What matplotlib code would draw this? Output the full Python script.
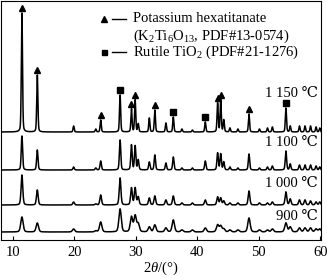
import numpy as np
import matplotlib
matplotlib.use("Agg")
import matplotlib.pyplot as plt

plt.rcParams['font.family'] = ['Liberation Serif', 'DejaVu Serif', 'Noto Sans CJK SC']
plt.rcParams['mathtext.fontset'] = 'custom'
plt.rcParams['mathtext.rm'] = 'Liberation Serif'
plt.rcParams['mathtext.it'] = 'Liberation Serif:italic'

# peak positions (2theta, deg)
peak_pos = [11.5, 14.0, 19.9, 23.5, 24.3, 27.45, 29.3, 29.9, 30.4, 32.2, 33.1,
            34.9, 36.1, 37.5, 39.2, 41.3, 43.3, 43.8, 44.3, 45.3, 46.6, 48.4,
            50.1, 51.4, 52.2, 54.4, 55.1, 56.6, 57.5, 58.4, 59.3, 59.9]

# peak heights for each temperature (arbitrary units)
h_1150 = [119, 57, 6, 3, 12, 37, 23, 32, 8, 14, 22, 9, 15, 3, 2, 10, 29, 32,
          12, 4, 3, 18, 3, 4, 5, 24, 6, 6, 6, 6, 5, 4]
h_1100 = [34, 20, 3, 2, 9, 30, 25, 24, 10, 8, 15, 7, 13, 2, 2, 9, 17, 16, 8,
          3, 2, 16, 2, 3, 4, 19, 6, 5, 5, 5, 4, 3]
h_1000 = [30, 15, 3, 1, 10, 27, 17, 17, 8, 7, 9, 5, 9, 2, 2, 5, 8, 7, 4, 2, 2,
          14, 2, 2, 3, 13, 6, 5, 5, 4, 3, 3]
h_900 = [15, 9, 3, 1, 10, 23, 15, 16, 8, 5, 7, 4, 12, 2, 2, 4, 7, 6, 3, 2, 2,
         14, 2, 2, 3, 9, 5, 4, 4, 4, 3, 3]

temps = ['900 ℃', '1 000 ℃', '1 100 ℃', '1 150 ℃']
offsets = [8, 35, 70, 108]
widths = [0.45, 0.32, 0.26, 0.22]
heights = [h_900, h_1000, h_1100, h_1150]

# phase markers on the 1 150 pattern
tri_pos = [11.5, 14.0, 24.3, 29.3, 29.9, 33.1, 43.3, 43.8, 48.4]
sq_pos = [27.45, 36.1, 41.3, 54.4]


def pattern(x, pos, hts, w):
    y = np.zeros_like(x)
    for p, h in zip(pos, hts):
        g = np.exp(-4 * np.log(2) * (x - p) ** 2 / w ** 2)
        l = 1 / (1 + 4 * (x - p) ** 2 / w ** 2)
        y += h * (0.7 * g + 0.3 * l)
    return y


fig = plt.figure(figsize=(3.27, 2.78), dpi=100)
ax = fig.add_axes([1 / 327, 38 / 278, 320 / 327, 239 / 278])

x = np.linspace(8, 60.5, 3000)
for hts, off, w in zip(heights, offsets, widths):
    ax.plot(x, pattern(x, peak_pos, hts, w) + off, color='black', lw=1.1)

top = dict(zip(peak_pos, h_1150))
ax.plot(tri_pos, [top[p] + offsets[3] + 5 for p in tri_pos], '^', color='black', ms=4.5)
ax.plot(sq_pos, [top[p] + offsets[3] + 5 for p in sq_pos], 's', color='black', ms=4)

label_y = [0.100, 0.238, 0.406, 0.611]
for t, ly in zip(temps, label_y):
    ax.text(0.99, ly, t, transform=ax.transAxes, ha='right', va='center', fontsize=10.5)

# legend drawn by hand
ax.plot([0.322], [0.925], '^', color='black', ms=4, transform=ax.transAxes)
ax.plot([0.347, 0.391], [0.925, 0.925], color='black', lw=1.0, transform=ax.transAxes)
ax.text(0.4125, 0.925, 'Potassium hexatitanate', transform=ax.transAxes, va='center', fontsize=10.5)
ax.text(0.4125, 0.854, '(K$_2$Ti$_6$O$_{13}$, PDF#13-0574)', transform=ax.transAxes,
        va='center', fontsize=10.5)
ax.plot([0.322], [0.787], 's', color='black', ms=3.6, transform=ax.transAxes)
ax.plot([0.347, 0.391], [0.787, 0.787], color='black', lw=1.0, transform=ax.transAxes)
ax.text(0.4125, 0.787, 'Rutile TiO$_2$ (PDF#21-1276)', transform=ax.transAxes,
        va='center', fontsize=10.5)

ax.set_xlim(8.1, 60.1)
ax.set_ylim(0, 239)
ax.set_xticks([10, 20, 30, 40, 50, 60])
ax.set_yticks([])
ax.tick_params(axis='x', direction='in', length=3, labelsize=10.5, pad=4)
ax.set_xlabel('2$\\mathit{\\theta}$/(°)', fontsize=10.5, labelpad=1)
for s in ax.spines.values():
    s.set_linewidth(0.8)

fig.savefig('out.png', dpi=100)
